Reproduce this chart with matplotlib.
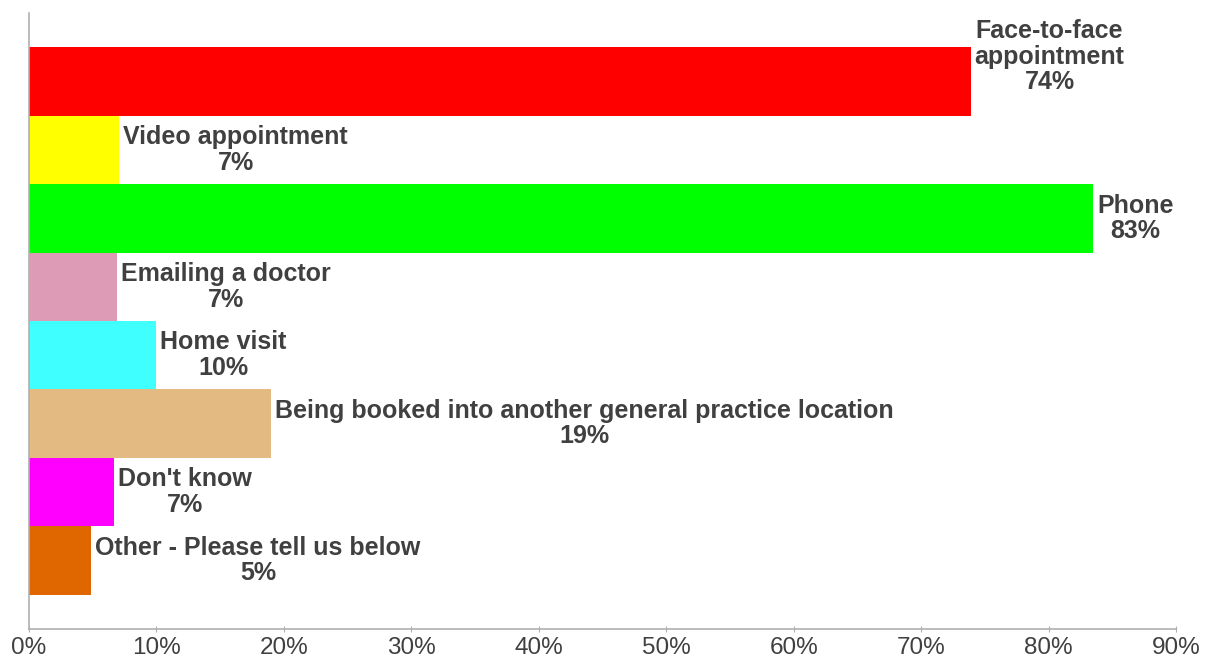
import numpy as np
import matplotlib.pyplot as plt
from matplotlib.ticker import PercentFormatter

plt.rcParams['font.family'] = ['Liberation Sans', 'DejaVu Sans']

# Survey answers, top to bottom
categories = [
    'Face-to-face\nappointment',
    'Video appointment',
    'Phone',
    'Emailing a doctor',
    'Home visit',
    'Being booked into another general practice location',
    "Don't know",
    'Other - Please tell us below',
]
values = [73.9, 7.1, 83.5, 6.9, 10.0, 19.0, 6.7, 4.9]
shown = ['74%', '7%', '83%', '7%', '10%', '19%', '7%', '5%']
colors = ['#FF0000', '#FFFF00', '#00FF00', '#DE9BB5',
          '#40FFFF', '#E2BA82', '#FF00FF', '#E06600']

fig = plt.figure(figsize=(12.1, 6.62), dpi=100)
ax = fig.add_axes([29 / 1210, 1 - 629 / 662, (1176 - 29) / 1210, (629 - 13) / 662])

y = np.arange(len(categories))
ax.barh(y, values, height=1.0, color=colors)
ax.set_ylim(len(categories), -1)
ax.set_xlim(0, 90)

# first label sits a little higher than its bar, as in the source
lift = [0.36, 0, 0, 0, 0, 0, 0, 0]
for yi, v, cat, txt, dy in zip(y, values, categories, shown, lift):
    ax.text(v + 0.3, yi - dy, cat + '\n' + txt, ha='left', va='center',
            multialignment='center', fontsize=18, fontweight='bold',
            color='#404040', linespacing=1.08)

ax.xaxis.set_major_formatter(PercentFormatter(decimals=0))
ax.set_xticks(np.arange(0, 91, 10))
ax.set_yticks([])
ax.tick_params(axis='x', direction='inout', length=5, color='#B0B0B0',
               labelsize=17.5, labelcolor='#404040', pad=3)
for s in ['top', 'right']:
    ax.spines[s].set_visible(False)
for s in ['left', 'bottom']:
    ax.spines[s].set_color('#B0B0B0')
    ax.spines[s].set_linewidth(1.2)

plt.savefig('out.png', dpi=100)
